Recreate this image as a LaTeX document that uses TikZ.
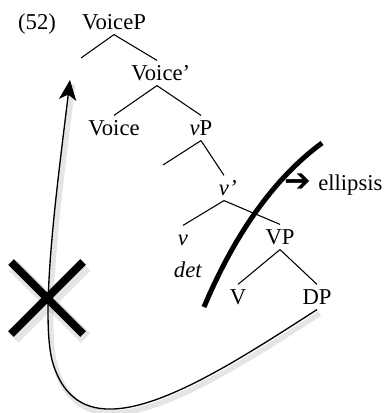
\documentclass[tikz,border=0pt]{standalone}
\usepackage{fontspec}
\setmainfont{Liberation Serif}
\newfontfamily\symfont{DejaVu Sans}
\usetikzlibrary{arrows.meta}

\tikzset{
  lbl/.style={inner xsep=2pt, inner ysep=3.5pt, text height=11.5pt, text depth=0pt,
    font=\fontsize{17}{20}\selectfont},
  branch/.style={line width=0.8pt},
  shade1/.style={draw=black, opacity=0.1, transform canvas={shift={(2pt,-3pt)}}},
}

\begin{document}
\begin{tikzpicture}[x=0.75pt, y=-0.75pt]
  \useasboundingbox (0,0) rectangle (385,413);

  % tree
  \node[lbl] (num) at (37,22) {(52)};
  \node[lbl] (voicep) at (114,22) {VoiceP};
  \coordinate (specvoice) at (81,58);
  \node[lbl] (voicebar) at (157,73) {Voice\rlap{'}};
  \node[lbl] (voice) at (114,128) {Voice};
  \node[lbl] (vp) at (201,128) {\textit{v}P};
  \coordinate (specv) at (163,165);
  \node[lbl] (vbar) at (224,188) {\textit{v}\rlap{\textit{'}}};
  \node[lbl] (vhead) at (183,238) {\textit{v}};
  \node[lbl] (det) at (188,270) {\textit{det}};
  \node[lbl] (bigvp) at (280,237) {VP};
  \node[lbl] (verb) at (238,297) {V};
  \node[lbl] (dp) at (317,297) {DP};
  \node[inner sep=0pt, font=\symfont\fontsize{24}{25}\selectfont] (arr) at (298,183) {➔};
  \node[lbl, inner xsep=0pt, anchor=west] (ellipsis) at (318,183) {ellipsis};
  \coordinate (landing) at (70,80);
  \coordinate (xmark) at (47,298);

  \draw[branch] (voicep.south) -- (specvoice);
  \draw[branch] (voicep.south) -- (voicebar.north);
  \draw[branch] (voicebar.south) -- (voice.north);
  \draw[branch] (voicebar.south) -- (vp.north);
  \draw[branch] (vp.south) -- (specv);
  \draw[branch] (vp.south) -- (vbar.north);
  \draw[branch] (vbar.south) -- (vhead.north);
  \draw[branch] (vbar.south) -- (bigvp.north);
  \draw[branch] (bigvp.south) -- (verb.north);
  \draw[branch] (bigvp.south) -- (dp.north);

  % ellipsis boundary
  \draw[line width=3.75pt] (204,307) .. controls (228,250) and (265,185) .. (322,143);

  % crossed out movement
  \draw[shade1, line width=10pt] (xmark) +(-36,-36) -- +(36,36) (xmark) +(36,-36) -- +(-36,36);
  \draw[line width=6pt] (xmark) +(-36,-36) -- +(36,36) (xmark) +(36,-36) -- +(-36,36);
  \draw[shade1, line width=4pt] (dp.south) .. controls (200,385) and (80,462) .. (52,360)
    .. controls (40,310) and (58,180) .. (landing);
  \draw[line width=1pt, -{Stealth[length=15pt, width=13pt, inset=4pt]}]
    (dp.south) .. controls (200,385) and (80,462) .. (52,360)
    .. controls (40,310) and (58,180) .. (landing);
\end{tikzpicture}
\end{document}
